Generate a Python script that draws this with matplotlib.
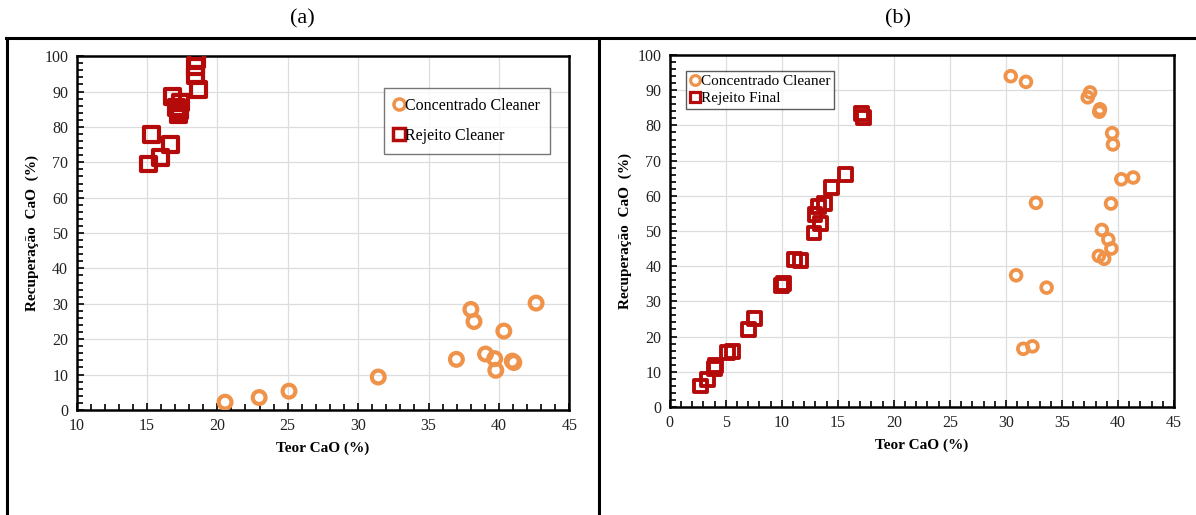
import matplotlib.pyplot as plt
from matplotlib.lines import Line2D
from matplotlib.ticker import MultipleLocator

plt.rcParams["font.family"] = ["Liberation Serif", "DejaVu Serif"]

ORANGE = "#F0934A"
DARKRED = "#B40A0A"

# (a) Cleaner
a_conc_x = [20.55, 22.97, 25.09, 31.43, 36.98, 38.01, 38.23, 39.05, 39.70, 39.78, 40.35, 41.06, 40.95, 42.64]
a_conc_y = [2.2, 3.5, 5.3, 9.3, 14.3, 28.4, 25.0, 15.8, 14.5, 11.2, 22.3, 13.4, 13.8, 30.2]
a_rej_x = [15.10, 15.98, 15.32, 16.69, 16.83, 17.12, 17.24, 17.30, 17.41, 18.42, 18.45, 18.49, 18.66]
a_rej_y = [69.5, 71.3, 77.8, 74.9, 88.7, 85.5, 83.4, 84.6, 86.8, 94.6, 97.0, 99.0, 90.6]

# (b) Rejeito final
b_conc_x = [30.43, 31.79, 37.51, 37.30, 38.39, 38.33, 39.48, 39.55, 40.30, 41.36, 32.68, 39.38,
            38.56, 39.14, 39.41, 38.29, 38.77, 30.91, 33.63, 31.55, 32.37]
b_conc_y = [94.0, 92.4, 89.4, 88.0, 84.6, 83.9, 77.8, 74.6, 64.7, 65.2, 58.0, 57.8,
            50.3, 47.6, 45.0, 42.9, 42.1, 37.4, 33.9, 16.5, 17.2]
b_rej_x = [2.72, 3.37, 3.98, 4.08, 5.17, 5.62, 7.01, 7.56, 9.94, 10.18, 11.10, 11.67,
           12.87, 12.97, 13.48, 13.27, 13.78, 14.47, 15.66, 17.09, 17.32]
b_rej_y = [5.9, 7.8, 10.8, 11.7, 15.5, 15.8, 22.1, 25.1, 34.5, 35.1, 41.9, 41.7,
           49.4, 54.6, 52.2, 56.9, 57.7, 62.4, 66.1, 83.3, 82.3]


def style_axes(ax, xmin):
    ax.set_xlim(xmin, 45)
    ax.set_ylim(0, 100)
    ax.xaxis.set_major_locator(MultipleLocator(5))
    ax.xaxis.set_minor_locator(MultipleLocator(1))
    ax.yaxis.set_major_locator(MultipleLocator(10))
    ax.yaxis.set_minor_locator(MultipleLocator(2))
    ax.tick_params(which="both", direction="in", top=False, right=False,
                   labelsize=11.5, labelcolor="#222222")
    ax.tick_params(which="major", length=5, width=1.2, pad=6)
    ax.tick_params(which="minor", length=4, width=1.2)
    ax.grid(True, which="major", color="#dddddd", linewidth=0.9)
    ax.set_axisbelow(True)
    for s in ax.spines.values():
        s.set_linewidth(1.8)
        s.set_color("black")
    ax.set_xlabel("Teor CaO (%)", fontsize=11, fontweight="bold", labelpad=5)
    ax.set_ylabel("Recuperação  CaO  (%)", fontsize=11, fontweight="bold", labelpad=4)


fig = plt.figure(figsize=(11.96, 5.15), dpi=100)

ax1 = fig.add_axes([0.064, 0.204, 0.412, 0.687])
ax1.scatter(a_conc_x, a_conc_y, s=85, facecolors="none", edgecolors=ORANGE, linewidths=3.0, zorder=3)
ax1.scatter(a_rej_x, a_rej_y, s=115, marker="s", facecolors="none", edgecolors=DARKRED, linewidths=3.0, zorder=3)
style_axes(ax1, 10)
h1 = [Line2D([], [], ls="none", marker="o", ms=8, mfc="white", mec=ORANGE, mew=2.5),
      Line2D([], [], ls="none", marker="s", ms=8, mfc="white", mec=DARKRED, mew=2.5)]
leg1 = ax1.legend(h1, ["Concentrado Cleaner", "Rejeito Cleaner"], loc="upper right",
                  bbox_to_anchor=(0.96, 0.91), fontsize=11.5, frameon=True, fancybox=False,
                  edgecolor="#555555", handlelength=0.6, handletextpad=0.1, labelspacing=0.9,
                  borderpad=0.6, borderaxespad=0)
leg1.get_frame().set_linewidth(1.0)

ax2 = fig.add_axes([0.560, 0.210, 0.4216, 0.683])
ax2.scatter(b_conc_x, b_conc_y, s=60, facecolors="none", edgecolors=ORANGE, linewidths=2.7, zorder=3)
ax2.scatter(b_rej_x, b_rej_y, s=85, marker="s", facecolors="none", edgecolors=DARKRED, linewidths=2.8, zorder=3)
style_axes(ax2, 0)
h2 = [Line2D([], [], ls="none", marker="o", ms=7, mfc="white", mec=ORANGE, mew=2.3),
      Line2D([], [], ls="none", marker="s", ms=7, mfc="white", mec=DARKRED, mew=2.3)]
leg2 = ax2.legend(h2, ["Concentrado Cleaner", "Rejeito Final"], loc="upper left",
                  bbox_to_anchor=(0.033, 0.955), fontsize=11, frameon=True, fancybox=False,
                  edgecolor="#333333", handlelength=0.6, handletextpad=0.1, labelspacing=0.2,
                  borderpad=0.25, borderaxespad=0)
leg2.get_frame().set_linewidth(1.0)

# panel titles and table frame
fig.text(0.2525, 0.963, "(a)", ha="center", va="center", fontsize=16)
fig.text(0.751, 0.963, "(b)", ha="center", va="center", fontsize=16)
fig.add_artist(Line2D([0.005, 1.0], [0.927, 0.927], color="black", lw=2.2))
fig.add_artist(Line2D([0.0055, 0.0055], [0.0, 0.927], color="black", lw=2.2))
fig.add_artist(Line2D([0.5008, 0.5008], [0.0, 0.927], color="black", lw=2.2))

fig.savefig("out.png", dpi=100)
